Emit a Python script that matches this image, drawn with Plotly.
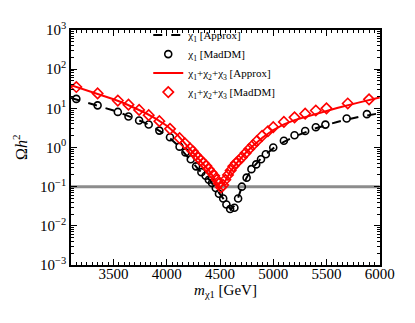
import plotly.graph_objects as go

# chi1 only, approximate curve
m_approx = [3100, 3200, 3300, 3400, 3500, 3600, 3700, 3800, 3900, 4000, 4100, 4200, 4300,
            4400, 4450, 4500, 4550, 4600, 4650, 4700, 4750, 4800, 4900, 5000, 5100, 5200,
            5400, 5600, 5800, 6000]
chi1_approx = [18.5, 15.5, 13.0, 10.8, 8.8, 7.0, 5.4, 4.2, 3.0, 2.05, 1.15, 0.55, 0.27,
               0.15, 0.10, 0.065, 0.042, 0.026, 0.036, 0.09, 0.17, 0.29, 0.58, 0.95, 1.4, 1.9,
               3.1, 4.5, 6.0, 7.5]
all_approx = [39, 32, 26, 21, 17, 13.5, 10.3, 7.6, 5.4, 3.6, 2.1, 1.05, 0.52,
              0.25, 0.16, 0.09, 0.14, 0.25, 0.38, 0.55, 0.78, 1.05, 1.8, 2.8, 3.9, 5.0,
              7.3, 10.2, 14, 19]

# MadDM points, chi1 only
m_chi1 = [3150, 3350, 3540, 3640, 3740, 3830, 3930, 4030, 4120, 4175, 4225, 4275, 4325,
          4365, 4395, 4425, 4460, 4490, 4530, 4560, 4595, 4635, 4670, 4705, 4750, 4795,
          4840, 4885, 4930, 5000, 5100, 5200, 5300, 5400, 5490, 5690, 5880]
chi1_maddm = [17.4, 11.9, 8.1, 6.2, 4.9, 3.85, 2.7, 1.83, 1.05, 0.75, 0.5, 0.33, 0.235,
              0.19, 0.15, 0.124, 0.092, 0.066, 0.05, 0.035, 0.027, 0.029, 0.05, 0.1, 0.17, 0.28,
              0.37, 0.5, 0.67, 1.0, 1.49, 2.05, 2.64, 3.3, 3.84, 5.5, 7.1]

# MadDM points, chi1+chi2+chi3
m_all = [3150, 3350, 3540, 3640, 3740, 3830, 3930, 4030, 4120, 4170, 4220, 4245, 4270,
         4295, 4320, 4345, 4370, 4395, 4420, 4445, 4470, 4490, 4510, 4530, 4550, 4575,
         4600, 4625, 4650, 4675, 4705, 4740, 4775, 4810, 4845, 4895, 4950, 5000, 5100,
         5200, 5300, 5400, 5500, 5700, 5900]
all_maddm = [35, 24, 15.8, 12.4, 9.1, 6.7, 4.7, 3.0, 1.73, 1.28, 0.94, 0.8, 0.65,
             0.55, 0.47, 0.40, 0.34, 0.28, 0.23, 0.19, 0.15, 0.12, 0.095, 0.11, 0.15, 0.2,
             0.26, 0.33, 0.40, 0.46, 0.56, 0.72, 0.92, 1.16, 1.45, 1.98, 2.6, 3.3, 4.5,
             5.9, 7.3, 8.8, 10.0, 13.3, 17.0]

x_range = [3100, 6000]
relic = [0.1, 0.1]

font = "Liberation Serif"

fig = go.Figure()
fig.add_trace(go.Scatter(x=x_range, y=relic, mode="lines", showlegend=False,
                         line=dict(color="#8c8c8c", width=3)))
fig.add_trace(go.Scatter(x=m_approx, y=chi1_approx, mode="lines",
                         name="χ<sub>1</sub> [Approx]",
                         line=dict(color="black", width=2, dash="dash")))
fig.add_trace(go.Scatter(x=m_chi1, y=chi1_maddm, mode="markers",
                         name="χ<sub>1</sub> [MadDM]",
                         marker=dict(symbol="circle-open", size=7, color="black",
                                     line=dict(width=1.6, color="black"))))
fig.add_trace(go.Scatter(x=m_approx, y=all_approx, mode="lines",
                         name="χ<sub>1</sub>+χ<sub>2</sub>+χ<sub>3</sub> [Approx]",
                         line=dict(color="red", width=2)))
fig.add_trace(go.Scatter(x=m_all, y=all_maddm, mode="markers",
                         name="χ<sub>1</sub>+χ<sub>2</sub>+χ<sub>3</sub> [MadDM]",
                         marker=dict(symbol="diamond-open", size=8, color="red",
                                     line=dict(width=1.6, color="red"))))

minor_y = [k * 10 ** e for e in range(-3, 3) for k in range(2, 10)]

# page body keeps an 8px margin, so the figure is drawn 16px smaller
fig.update_layout(
    width=399, height=307,
    margin=dict(l=63, r=24, t=16, b=50),
    paper_bgcolor="white", plot_bgcolor="white",
    font=dict(family=font, size=15, color="black"),
    showlegend=True,
    legend=dict(x=0.25, y=1.04, xanchor="left", yanchor="top",
                bgcolor="rgba(0,0,0,0)", font=dict(size=11, family=font),
                tracegroupgap=0, itemwidth=30),
    annotations=[dict(text="Ω<i>h</i><sup>2</sup>", textangle=-90, showarrow=False,
                      xref="paper", yref="paper", x=-0.167, y=0.5,
                      xanchor="center", yanchor="middle",
                      font=dict(size=16, family=font))],
)
fig.update_xaxes(
    range=[3100, 6003], showgrid=False, zeroline=False,
    showline=True, linecolor="black", linewidth=1.5, mirror="ticks",
    ticks="inside", ticklen=6, tickwidth=1.2, tickcolor="black",
    tickvals=[3500, 4000, 4500, 5000, 5500, 6000],
    ticktext=["3500", "4000", "4500", "5000", "5500", "6000"],
    ticklabeloverflow="allow", ticklabelstandoff=-6,
    minor=dict(ticks="inside", ticklen=3, tickcolor="black", dtick=50, tick0=3100),
    title=dict(text="<i>m</i><sub>χ1</sub> [GeV]", font=dict(size=15, family=font), standoff=2),
)
fig.update_yaxes(
    type="log", range=[-3, 3], showgrid=False, zeroline=False,
    showline=True, linecolor="black", linewidth=1.5, mirror="ticks",
    ticks="inside", ticklen=6, tickwidth=1.2, tickcolor="black",
    tickvals=[1e-3, 1e-2, 1e-1, 1, 10, 100, 1000],
    ticktext=["10<sup>−3</sup>", "10<sup>−2</sup>", "10<sup>−1</sup>", "10<sup>0</sup>",
              "10<sup>1</sup>", "10<sup>2</sup>", "10<sup>3</sup>"],
    minor=dict(ticks="inside", ticklen=3, tickcolor="black", tickvals=minor_y),
)

fig.write_html("out.html")
